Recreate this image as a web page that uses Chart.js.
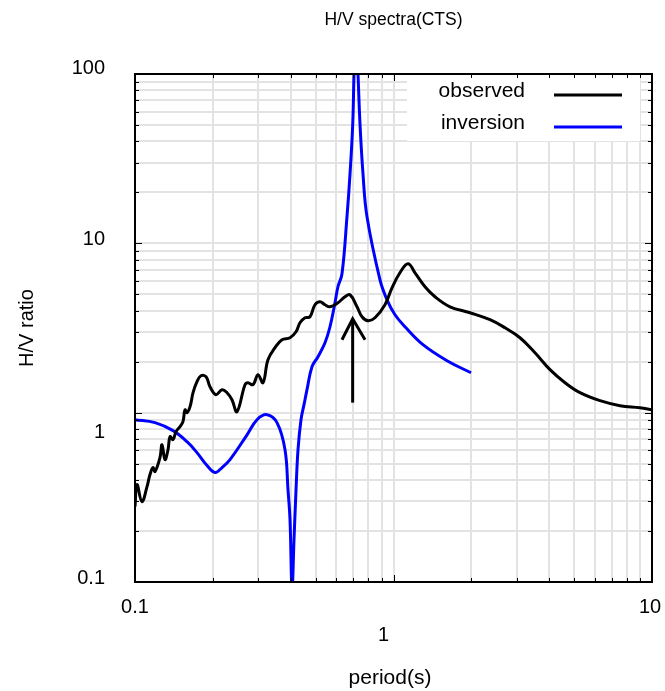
<!DOCTYPE html>
<html>
<head>
<meta charset="utf-8">
<script src="https://cdn.jsdelivr.net/npm/chart.js@4"></script>
<style>
  body { margin: 0; background: #fff; }
</style>
</head>
<body>
<canvas id="canvas" width="665" height="691"></canvas>
<script>
// observed H/V curve (period in s, H/V ratio)
var obsPeriod = [0.100, 0.1018, 0.1064, 0.1113, 0.1143, 0.1174, 0.1195, 0.1249, 0.1272, 0.1306,
  0.1342, 0.1366, 0.1403, 0.1441, 0.1493, 0.1533, 0.1561, 0.1589, 0.1633, 0.1677,
  0.1737, 0.180, 0.1883, 0.195, 0.2057, 0.2171, 0.227, 0.2372, 0.248, 0.2664,
  0.2736, 0.2861, 0.2991, 0.3127, 0.3269, 0.3479, 0.3704, 0.3978, 0.4197, 0.4347,
  0.4546, 0.4753, 0.4969, 0.5196, 0.5433, 0.568, 0.6097, 0.6492, 0.6789, 0.7225,
  0.7554, 0.7967, 0.848, 0.927, 0.9867, 1.059, 1.138, 1.211, 1.324, 1.447,
  1.654, 1.977, 2.362, 2.700, 3.086, 3.527, 4.031, 4.608, 5.267, 6.292,
  7.518, 8.986, 10];
var obsRatio = [0.279, 0.376, 0.298, 0.366, 0.431, 0.474, 0.449, 0.543, 0.647, 0.528,
  0.605, 0.722, 0.693, 0.773, 0.827, 0.885, 1.04, 1.0, 1.085, 1.312,
  1.524, 1.653, 1.631, 1.423, 1.277, 1.367, 1.312, 1.193, 1.014, 1.463,
  1.503, 1.463, 1.676, 1.503, 2.054, 2.418, 2.696, 2.77, 3.006, 3.396,
  3.635, 3.685, 4.338, 4.518, 4.338, 4.221, 4.457, 4.836, 4.969, 4.221,
  3.685, 3.490, 3.635, 4.338, 5.46, 6.70, 7.57, 6.70, 5.54, 4.836,
  4.221, 3.89, 3.538, 3.173, 2.77, 2.259, 1.794, 1.503, 1.312, 1.177,
  1.1, 1.07, 1.041];

// inversion result
var invPeriod = [0.1, 0.1195, 0.1403, 0.1589, 0.1737, 0.19, 0.204, 0.2171, 0.2331, 0.2713,
  0.2965, 0.324, 0.3542, 0.3804, 0.3907, 0.3978, 0.405, 0.4122, 0.4197, 0.4272,
  0.4387, 0.4506, 0.4628, 0.4838, 0.5104, 0.5433, 0.568, 0.5938, 0.6097, 0.632,
  0.6607, 0.6789, 0.6955, 0.7036, 0.716, 0.729, 0.742, 0.7621, 0.7899,
  0.8867, 0.944, 1.0134, 1.108, 1.3, 1.611, 1.995];
var invRatio = [0.909, 0.873, 0.783, 0.674, 0.581, 0.487, 0.443, 0.474, 0.528, 0.74,
  0.909, 0.973, 0.873, 0.605, 0.351, 0.2337, 0.09, 0.178, 0.351, 0.605,
  0.909, 1.115, 1.367, 1.868, 2.14, 2.588, 3.216, 4.457, 5.54, 6.61,
  14.33, 25.7, 50.7, 100, 200, 100, 50.7, 25.7, 14.33,
  6.09, 4.64, 3.785, 3.216, 2.52, 2.027, 1.72];

// arrow marking the peak
var arrowShaftX = [0.695, 0.695];
var arrowShaftY = [1.146, 3.586];
var arrowHeadX = [0.632, 0.695, 0.776];
var arrowHeadY = [2.696, 3.586, 2.696];

var xTicks = [0.1, 1, 10];
var xTickLabels = ['0.1', '1', '10'];
var yTicks = [0.1, 1, 10, 100];
var yTickLabels = ['0.1', '1', '10', '100'];

var seriesNames = ['observed', 'inversion'];

function pts(xs, ys) {
  return xs.map(function (v, i) { return { x: v, y: ys[i] }; });
}
function decadeTicks(lo, hi) {
  var out = [];
  for (var d = lo; d < hi; d *= 10) {
    for (var k = 1; k < 10; k++) out.push(+(d * k).toPrecision(3));
  }
  out.push(hi);
  return out;
}

var FONT = '"Liberation Sans", Arial, sans-serif';

var decor = {
  id: 'decor',
  beforeDatasetsDraw: function (chart) {
    var ctx = chart.ctx;
    ctx.save();
    ctx.fillStyle = '#fff';
    ctx.fillRect(407, chart.chartArea.top + 1, 233, 66);
    ctx.restore();
  },
  afterDraw: function (chart) {
    var ctx = chart.ctx, a = chart.chartArea;
    var xs = chart.scales.x, ys = chart.scales.y;
    ctx.save();
    // tick marks, inside the frame on all four sides
    ctx.strokeStyle = '#000';
    ctx.lineWidth = 1;
    ctx.beginPath();
    decadeTicks(0.1, 10).forEach(function (v) {
      var p = Math.round(xs.getPixelForValue(v)) + 0.5;
      var len = (xTicks.indexOf(v) >= 0) ? 7 : 4;
      ctx.moveTo(p, a.bottom); ctx.lineTo(p, a.bottom - len);
      ctx.moveTo(p, a.top); ctx.lineTo(p, a.top + len);
    });
    decadeTicks(0.1, 100).forEach(function (v) {
      var p = Math.round(ys.getPixelForValue(v)) + 0.5;
      var len = (yTicks.indexOf(v) >= 0) ? 7 : 4;
      ctx.moveTo(a.left, p); ctx.lineTo(a.left + len, p);
      ctx.moveTo(a.right, p); ctx.lineTo(a.right - len, p);
    });
    ctx.stroke();
    // frame
    ctx.lineWidth = 2;
    ctx.strokeRect(a.left, a.top, a.right - a.left, a.bottom - a.top);

    ctx.fillStyle = '#000';
    ctx.font = '20px ' + FONT;
    ctx.textBaseline = 'middle';
    // x tick labels (the "1" sits lower, as in the original)
    ctx.textAlign = 'center';
    var xShift = { '0.1': [0, 25], '1': [-10, 53], '10': [-2, 25] };
    xTicks.forEach(function (v, i) {
      var s = xShift[xTickLabels[i]];
      ctx.fillText(xTickLabels[i], xs.getPixelForValue(v) + s[0], a.bottom + s[1]);
    });
    // y tick labels
    ctx.textAlign = 'right';
    var yShift = { '0.1': -4, '1': 20, '10': -4, '100': -6 };
    yTicks.forEach(function (v, i) {
      ctx.fillText(yTickLabels[i], 105, ys.getPixelForValue(v) + yShift[yTickLabels[i]]);
    });

    // titles
    ctx.textAlign = 'center';
    ctx.font = '17.5px ' + FONT;
    ctx.fillText('H/V spectra(CTS)', (a.left + a.right) / 2, 20);
    ctx.font = '21px ' + FONT;
    ctx.fillText('period(s)', 390, 678);
    ctx.font = '20px ' + FONT;
    ctx.save();
    ctx.translate(27, 328);
    ctx.rotate(-Math.PI / 2);
    ctx.fillText('H/V ratio', 0, 0);
    ctx.restore();

    // legend
    ctx.font = '21px ' + FONT;
    ctx.textAlign = 'right';
    ctx.textBaseline = 'alphabetic';
    var colors = ['#000', '#0000ff'];
    var base = [97, 129];
    seriesNames.forEach(function (n, i) {
      ctx.fillStyle = '#000';
      ctx.fillText(n, 525, base[i]);
      ctx.strokeStyle = colors[i];
      ctx.lineWidth = 3;
      ctx.beginPath();
      ctx.moveTo(554, base[i] - 2);
      ctx.lineTo(622, base[i] - 2);
      ctx.stroke();
    });
    ctx.restore();
  }
};

var ctx = document.getElementById('canvas');
new Chart(ctx, {
  type: 'line',
  data: {
    datasets: [{
      label: seriesNames[0],
      data: pts(obsPeriod, obsRatio),
      borderColor: '#000',
      borderWidth: 3,
      pointRadius: 0,
      tension: 0.4,
      clip: 0
    }, {
      label: seriesNames[1],
      data: pts(invPeriod, invRatio),
      borderColor: '#0000ff',
      borderWidth: 3,
      pointRadius: 0,
      tension: 0.4,
      clip: 0
    }, {
      label: 'arrow',
      data: pts(arrowShaftX, arrowShaftY),
      borderColor: '#000',
      borderWidth: 3,
      pointRadius: 0
    }, {
      label: 'arrowhead',
      data: pts(arrowHeadX, arrowHeadY),
      borderColor: '#000',
      borderWidth: 3,
      pointRadius: 0
    }]
  },
  options: {
    responsive: false,
    animation: false,
    layout: { padding: { left: 135, right: 13, top: 74, bottom: 109 } },
    plugins: {
      legend: { display: false },
      tooltip: { enabled: false }
    },
    scales: {
      x: {
        type: 'logarithmic',
        min: 0.1,
        max: 10,
        afterBuildTicks: function (s) {
          s.ticks = decadeTicks(0.1, 10).map(function (v) { return { value: v }; });
        },
        grid: { color: '#e3e3e3', lineWidth: 2, drawTicks: false },
        border: { display: false },
        ticks: { display: false }
      },
      y: {
        type: 'logarithmic',
        min: 0.1,
        max: 100,
        afterBuildTicks: function (s) {
          s.ticks = decadeTicks(0.1, 100).map(function (v) { return { value: v }; });
        },
        grid: { color: '#e3e3e3', lineWidth: 2, drawTicks: false },
        border: { display: false },
        ticks: { display: false }
      }
    }
  },
  plugins: [decor]
});
</script>
</body>
</html>
